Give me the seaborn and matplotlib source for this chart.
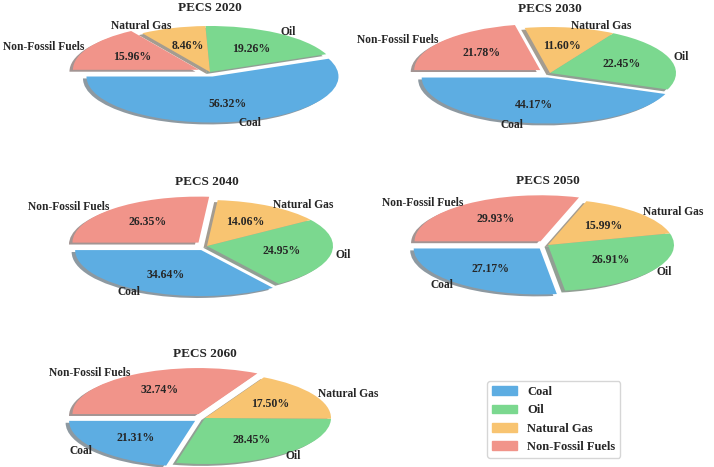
import matplotlib
matplotlib.use("Agg")
import matplotlib.pyplot as plt
import matplotlib.patches as mpatches
import seaborn as sns

# ---------------------------------------------
# Data: primary energy consumption structure (%)
# ---------------------------------------------
years = ["2020", "2030", "2040", "2050", "2060"]
sources = ["Coal", "Oil", "Natural Gas", "Non-Fossil Fuels"]
coal = [56.32, 44.17, 34.64, 27.17, 21.31]
oil = [19.26, 22.45, 24.95, 26.91, 28.45]
gas = [8.46, 11.60, 14.06, 15.99, 17.50]
non_fossil = [15.96, 21.78, 26.35, 29.93, 32.74]

colors = ["#5DADE2", "#7BD88F", "#F8C471", "#F1948A"]
explode = [0.1, 0, 0, 0.1]

sns.set_theme(style="white")
plt.rcParams["font.family"] = ["Liberation Serif", "DejaVu Serif"]
plt.rcParams["font.weight"] = "bold"

# ---------------------------------------------
# Layout (pixel positions of each pie)
# ---------------------------------------------
W, H = 714, 467
RX, RY = 126, 46
centers = [(210, 72), (550, 73), (207, 246), (548, 245), (205, 418)]

fig = plt.figure(figsize=(W / 100, H / 100), dpi=100)

for i, year in enumerate(years):
    cx, cy = centers[i]
    ax = fig.add_axes([(cx - 1.25 * RX) / W, (H - cy - 1.25 * RY) / H,
                       2.5 * RX / W, 2.5 * RY / H])
    vals = [coal[i], oil[i], gas[i], non_fossil[i]]
    wedges, texts, autotexts = ax.pie(
        vals, labels=sources, colors=colors, explode=explode,
        startangle=180, autopct="%1.2f%%", pctdistance=0.6,
        labeldistance=1.04, shadow={"ox": -0.02, "oy": -0.03},
        wedgeprops={"linewidth": 0},
    )
    for t in texts:
        t.set_fontsize(8.3)
        t.set_fontweight("bold")
    for t in autotexts:
        t.set_fontsize(8.5)
        t.set_fontweight("bold")
    ax.set_aspect("auto")
    ax.set_xlim(-1.25, 1.25)
    ax.set_ylim(-1.25, 1.25)
    ax.text(0, 1.4, f"PECS {year}", ha="center", va="center",
            fontsize=9.5, fontweight="bold", clip_on=False)

handles = [mpatches.Patch(color=c, label=s) for c, s in zip(colors, sources)]
fig.legend(handles=handles, loc="upper left",
           bbox_to_anchor=(487 / W, 1 - 381 / H), borderaxespad=0,
           prop={"size": 9, "weight": "bold"}, frameon=True)

fig.savefig("out.png", dpi=100)
